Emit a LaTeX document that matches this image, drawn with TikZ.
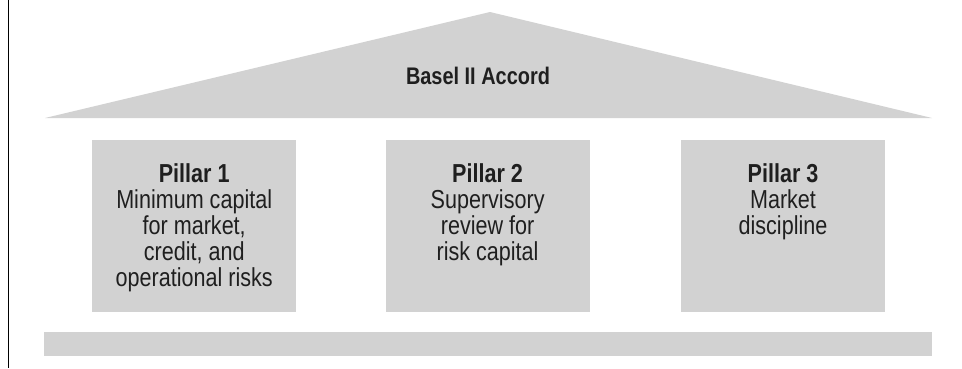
\documentclass[tikz,border=0pt]{standalone}
\usepackage{fontspec}
\setmainfont{Liberation Sans}[FakeStretch=0.83]
\usetikzlibrary{positioning}
\definecolor{roofgray}{HTML}{D2D2D2}
\tikzset{
	part/.style={fill=roofgray,draw=none},
	pillar/.style={part,minimum width=204pt,minimum height=172pt,inner sep=0pt},
	caption/.style={inner sep=0pt,align=center,text=black!88,font=\fontsize{26}{26}\selectfont}
}
\begin{document}
\begin{tikzpicture}[x=1pt,y=-1pt]
		\useasboundingbox (0,0) rectangle (962,368);
		\draw[line width=1pt] (8.5,0) -- (8.5,368);
		\fill[roofgray] (45,118) -- (490,12) -- (932,118) -- cycle;
		\node[caption,font=\fontsize{24}{26}\selectfont\bfseries,anchor=base] (accord) at (478,84) {Basel II Accord};
		\node[pillar,anchor=north west] (p1) at (92,140) {};
		\node[pillar,right=89pt of p1] (p2) {};
		\node[pillar,right=91pt of p2] (p3) {};
		\node[caption,below=23pt of p1.north] (t1) {\textbf{Pillar 1}\\Minimum capital\\for market,\\credit, and\\operational risks};
		\node[caption,below=23pt of p2.north] (t2) {\textbf{Pillar 2}\\Supervisory\\review for\\risk capital};
		\node[caption,below=23pt of p3.north] (t3) {\textbf{Pillar 3}\\Market\\discipline};
		\fill[roofgray] (44,332) rectangle (932,356);
		\end{tikzpicture}
\end{document}
